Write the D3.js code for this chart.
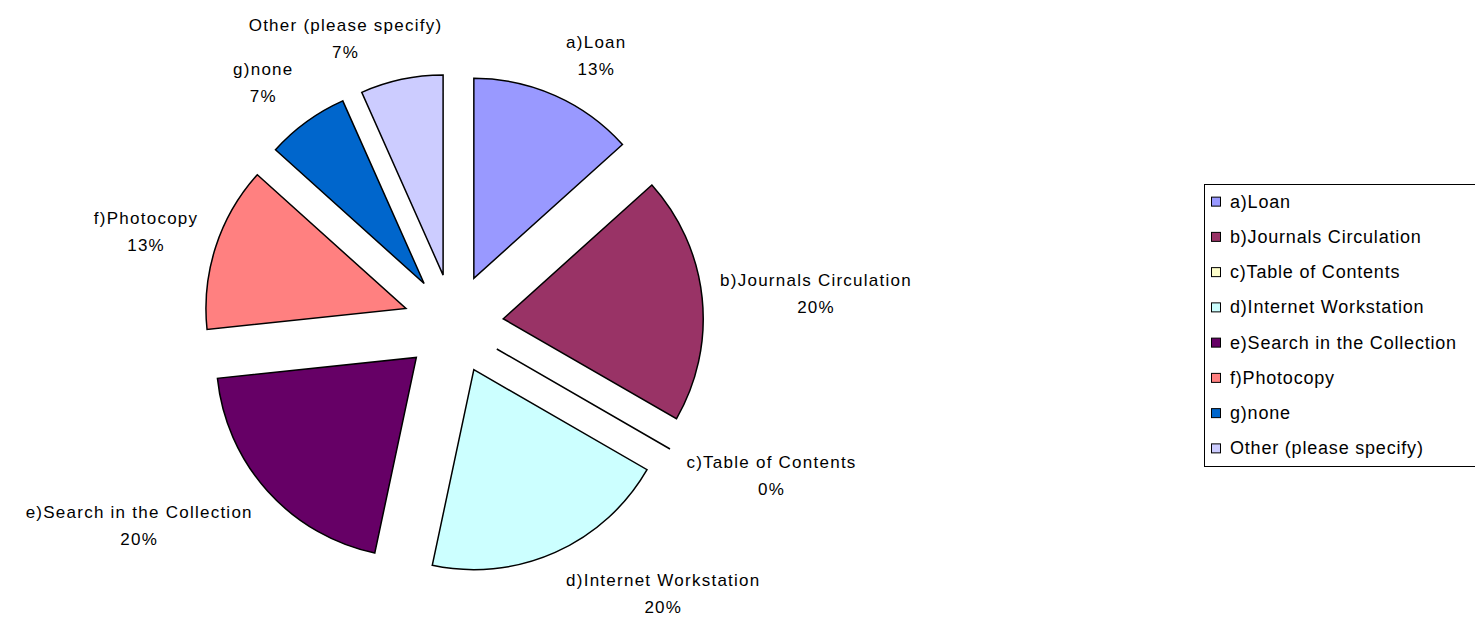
<!DOCTYPE html>
<html>
<head>
<meta charset="utf-8">
<script src="https://cdn.jsdelivr.net/npm/d3@7"></script>
<style>
  body { margin: 0; background: #fff; }
  text { font-family: "Liberation Sans", Arial, sans-serif; fill: #000; }
</style>
</head>
<body>
<div id="chart"></div>
<script>
// categories and counts (percentages shown as share of total)
const categories = [
  "a)Loan",
  "b)Journals Circulation",
  "c)Table of Contents",
  "d)Internet Workstation",
  "e)Search in the Collection",
  "f)Photocopy",
  "g)none",
  "Other (please specify)"
];
const counts = [2, 3, 0, 3, 3, 2, 1, 1];
const colors = ["#9999FF", "#993366", "#FFFFCC", "#CCFFFF", "#660066", "#FF8080", "#0066CC", "#CCCCFF"];

const width = 1475, height = 623;
const cx = 453.5, cy = 324;
const radius = 200;
const explode = 50;

const svg = d3.select("#chart")
  .append("svg")
  .attr("width", width)
  .attr("height", height);

const data = categories.map((c, i) => ({ name: c, value: counts[i], color: colors[i] }));
const total = d3.sum(counts);

const pie = d3.pie()
  .sort(null)
  .value(d => d.value);

const arc = d3.arc()
  .innerRadius(0)
  .outerRadius(radius);

const arcs = pie(data);

const g = svg.append("g")
  .attr("transform", `translate(${cx},${cy})`);

// exploded slices
g.selectAll("path.slice")
  .data(arcs)
  .join("path")
  .attr("class", "slice")
  .attr("transform", d => {
    const a = (d.startAngle + d.endAngle) / 2;
    return `translate(${Math.sin(a) * explode},${-Math.cos(a) * explode})`;
  })
  .attr("d", arc)
  .attr("fill", d => d.data.color)
  .attr("stroke", "#000")
  .attr("stroke-width", 1.5)
  .attr("stroke-linejoin", "miter");

// data labels outside each slice
const fmt = d3.format(".0%");
const lineH = 27;
const gap = 12, pad = 6;
arcs.forEach(d => {
  const a = (d.startAngle + d.endAngle) / 2;
  const rr = radius + explode + gap;
  const ax = Math.sin(a) * rr, ay = -Math.cos(a) * rr;

  const lbl = g.append("text")
    .attr("text-anchor", "middle")
    .style("font-size", "17px")
    .style("letter-spacing", "1.25px");
  const t1 = lbl.append("tspan").attr("x", 0).attr("dy", 0).text(d.data.name);
  const t2 = lbl.append("tspan").attr("x", 0).attr("dy", lineH).text(fmt(d.data.value / total));

  const w = Math.max(t1.node().getComputedTextLength(), t2.node().getComputedTextLength());
  const hw = w / 2 + pad, hh = 30;
  const fx = Math.max(-1, Math.min(1, Math.sin(a) * 2.5));
  const fy = Math.max(-1, Math.min(1, -Math.cos(a) * 1.3));
  const lx = ax + fx * hw;
  const ly = ay + fy * hh;
  // first baseline sits above box centre
  lbl.attr("transform", `translate(${lx},${ly - 7})`);
});

// legend
const legendItems = categories.map((c, i) => ({ name: c, color: colors[i] }));
const legend = svg.append("g")
  .attr("transform", "translate(1204,184)");

legend.append("rect")
  .attr("x", 0.5)
  .attr("y", 0.5)
  .attr("width", 290)
  .attr("height", 282)
  .attr("fill", "#fff")
  .attr("stroke", "#000")
  .attr("stroke-width", 1);

const row = d3.scaleBand()
  .domain(d3.range(legendItems.length))
  .range([0, 282]);

const rows = legend.selectAll("g.item")
  .data(legendItems)
  .join("g")
  .attr("class", "item")
  .attr("transform", (d, i) => `translate(0,${row(i) + row.bandwidth() / 2})`);

rows.append("rect")
  .attr("x", 7.5)
  .attr("y", -4.5)
  .attr("width", 9)
  .attr("height", 9)
  .attr("fill", d => d.color)
  .attr("stroke", "#000")
  .attr("stroke-width", 1);

rows.append("text")
  .attr("x", 26)
  .attr("y", 6)
  .style("font-size", "18px")
  .style("letter-spacing", "0.8px")
  .text(d => d.name);
</script>
</body>
</html>
